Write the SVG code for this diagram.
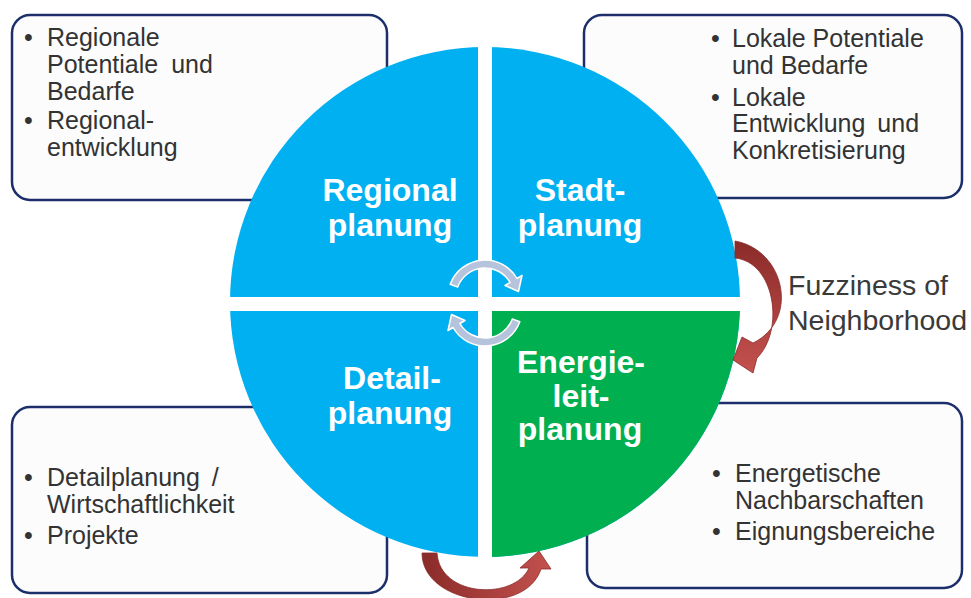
<svg xmlns="http://www.w3.org/2000/svg" width="971" height="598" viewBox="0 0 971 598">
<defs>
<style>
.box{fill:#fcfcfd;stroke:#1c2f6b;stroke-width:2.5}
.bt{font-family:"Liberation Sans",Arial,sans-serif;font-size:25px;fill:#333333}
.ql{font-family:"Liberation Sans",Arial,sans-serif;font-size:32px;font-weight:bold;fill:#ffffff;text-anchor:middle}
.fz{font-family:"Liberation Sans",Arial,sans-serif;font-size:28.5px;fill:#3a3a3a}
.ca{fill:#b6c3dc;stroke:#ffffff;stroke-width:1.5;stroke-linejoin:round}
</style>
<linearGradient id="gv" x1="0" y1="0" x2="0" y2="1">
<stop offset="0" stop-color="#8a2b29"/>
<stop offset="1" stop-color="#c4514e"/>
</linearGradient>
<linearGradient id="gh" x1="0" y1="0" x2="1" y2="0">
<stop offset="0" stop-color="#8a2b29"/>
<stop offset="1" stop-color="#c4514e"/>
</linearGradient>
<clipPath id="brq"><rect x="485" y="304" width="300" height="300"/></clipPath>
</defs>
<rect width="971" height="598" fill="#ffffff"/>

<g id="box-tl">
<rect class="box" x="12" y="15" width="375" height="185" rx="18"/>
<text class="bt" x="24" y="46">•</text>
<text class="bt" x="47" y="46">Regionale</text>
<text class="bt" x="47" y="73" word-spacing="6">Potentiale und</text>
<text class="bt" x="47" y="100">Bedarfe</text>
<text class="bt" x="24" y="129">•</text>
<text class="bt" x="47" y="129">Regional-</text>
<text class="bt" x="47" y="156">entwicklung</text>
</g>
<g id="box-tr">
<rect class="box" x="584" y="15" width="378" height="183" rx="18"/>
<text class="bt" x="711" y="47">•</text>
<text class="bt" x="732" y="47">Lokale Potentiale</text>
<text class="bt" x="732" y="74">und Bedarfe</text>
<text class="bt" x="711" y="106">•</text>
<text class="bt" x="732" y="106">Lokale</text>
<text class="bt" x="732" y="132" word-spacing="5">Entwicklung und</text>
<text class="bt" x="732" y="159">Konkretisierung</text>
</g>
<g id="box-bl">
<rect class="box" x="12" y="407" width="375" height="186" rx="18"/>
<text class="bt" x="24" y="486">•</text>
<text class="bt" x="47" y="486" word-spacing="5">Detailplanung /</text>
<text class="bt" x="47" y="513">Wirtschaftlichkeit</text>
<text class="bt" x="24" y="544">•</text>
<text class="bt" x="47" y="544">Projekte</text>
</g>
<g id="box-br">
<rect class="box" x="587" y="403" width="375" height="185" rx="18"/>
<text class="bt" x="712" y="482">•</text>
<text class="bt" x="735" y="482">Energetische</text>
<text class="bt" x="735" y="509">Nachbarschaften</text>
<text class="bt" x="712" y="540">•</text>
<text class="bt" x="735" y="540">Eignungsbereiche</text>
</g>

<g id="circle">
<circle cx="485" cy="302" r="255" fill="#00b0f0"/>
<circle cx="485" cy="302" r="255" fill="#00b050" clip-path="url(#brq)"/>
<rect x="478" y="40" width="14" height="525" fill="#ffffff"/>
<rect x="225" y="297" width="525" height="14" fill="#ffffff"/>
</g>

<g id="q-regional"><text class="ql" x="390" y="201">Regional</text><text class="ql" x="390" y="236">planung</text></g>
<g id="q-stadt"><text class="ql" x="580" y="201">Stadt-</text><text class="ql" x="580" y="236">planung</text></g>
<g id="q-detail"><text class="ql" x="392" y="389">Detail-</text><text class="ql" x="390" y="424">planung</text></g>
<g id="q-energie"><text class="ql" x="581" y="373">Energie-</text><text class="ql" x="581" y="407">leit-</text><text class="ql" x="580" y="440">planung</text></g>

<g id="connectors">
<path id="cyc-top" class="ca" d="M450.2,284.3 A37,37 0 0 1 517,278.5 L522,275.5 L518.5,291.5 L505,285.5 L510.1,282.5 A29,29 0 0 0 457.7,287.1 Z"/>
<path id="cyc-bottom" class="ca" transform="rotate(180 485 303)" d="M450.2,284.3 A37,37 0 0 1 517,278.5 L522,275.5 L518.5,291.5 L505,285.5 L510.1,282.5 A29,29 0 0 0 457.7,287.1 Z"/>
<path id="fuzzy-right" fill="url(#gv)" stroke="#8a2b29" stroke-width="0.8" stroke-linejoin="round" d="M735,241 C785,250 800,320 753,343 L742,337 L733,360 L753,373 L757,358 C785,330 775,262 735,258 Z"/>
<path id="fuzzy-bottom" fill="url(#gh)" stroke="#8a2b29" stroke-width="0.8" stroke-linejoin="round" d="M422,553 C422,605 525,618 541,569 L551,569 L539,551 L520,568 L529,568 C515,600 440,598 437,553 Z"/>
</g>

<g id="label-fuzziness">
<text class="fz" x="788" y="295">Fuzziness of</text>
<text class="fz" x="788" y="330">Neighborhood</text>
</g>
</svg>
